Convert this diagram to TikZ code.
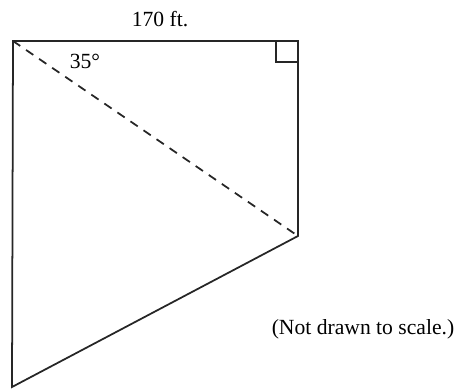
\documentclass[tikz,border=0pt]{standalone}
\usepackage{fontspec}
\setmainfont{Liberation Serif}
\usetikzlibrary{positioning}

\begin{document}
\begin{tikzpicture}[x=0.02cm, y=-0.02cm,
    side/.style={line width=1pt, draw=black!85, line join=miter},
    diag/.style={line width=1pt, draw=black!85, dash pattern=on 5pt off 4pt},
    label/.style={font=\fontsize{12.3}{14}\selectfont, inner sep=0pt},
]
\useasboundingbox (0,0) rectangle (461,390);

% Corners
\coordinate (tl) at (13,41);
\coordinate (tr) at (298,41);
\coordinate (br) at (298,236);
\coordinate (bl) at (12,387);

% Outline and diagonal
\draw[side] (tl) -- (tr) -- (br) -- (bl) -- cycle;
\draw[diag] (tl) -- (br);

% Right angle mark
\draw[line width=0.7pt, draw=black!85] (276,41) -- (276,62) -- (298,62);

% Labels
\node[label] (len) at (160,19) {170 ft.};
\node[label] (ang) at (85,61) {35\textdegree};
\node[label] (note) at (363,329) {(Not drawn to scale.)};

\end{tikzpicture}
\end{document}
